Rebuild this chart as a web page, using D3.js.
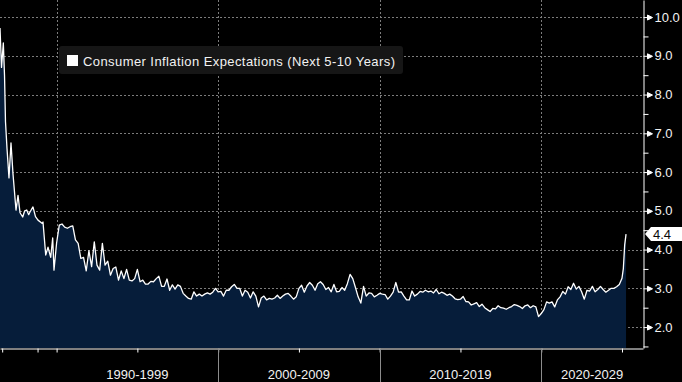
<!DOCTYPE html>
<meta charset="utf-8">
<style>

body {
  margin: 0;
  background: #000;
}

svg {
  display: block;
  font-family: "Liberation Sans", Arial, sans-serif;
}

.grid line {
  stroke: #7c7c7c;
  stroke-dasharray: 2,2;
}

.area {
  fill: #061d3a;
}

.line {
  fill: none;
  stroke: #fff;
  stroke-width: 1.3px;
  stroke-linejoin: round;
}

.axis text {
  fill: #f2f2f2;
  font-size: 13px;
}

.axis line,
.axis path {
  stroke: #fff;
}

</style>
<svg width="682" height="382"></svg>
<script src="https://d3js.org/d3.v7.min.js"></script>
<script>

// Early survey readings (irregular, before the monthly series)
var earlyYears  = [1979.6, 1979.88, 1980.21, 1980.43, 1980.61, 1980.89, 1981.25, 1981.62, 1981.99,
                   1982.54, 1982.91, 1983.28, 1983.77, 1984.14, 1984.51, 1984.87, 1985.11, 1985.66,
                   1986.12, 1986.58, 1987.32, 1987.5, 1988.0, 1988.42, 1988.92, 1989.28, 1989.52];
var earlyValues = [9.72, 8.70, 9.33, 8.50, 7.30, 6.60, 5.85, 6.75, 5.95,
                   5.02, 5.40, 4.95, 4.84, 5.00, 5.02, 4.90, 4.97, 5.10,
                   4.85, 4.76, 4.68, 4.71, 3.86, 4.06, 3.80, 4.30, 3.47];

// Every second month, Jan 1990 .. Jan 2025
var bimonthly = [
  4.17, 4.63, 4.66, 4.58, 4.55, 4.59, 4.61, 4.25, 4.16, 3.77, 3.80, 3.45,
  3.97, 3.56, 4.20, 3.60, 3.47, 4.16, 3.60, 3.70, 3.34, 3.51, 3.55, 3.21,
  3.45, 3.25, 3.49, 3.21, 3.19, 3.25, 3.49, 3.17, 3.21, 3.11, 3.11, 3.18,
  3.17, 3.25, 3.31, 3.05, 3.05, 3.24, 2.95, 3.09, 2.98, 3.09, 3.05, 2.87,
  2.80, 2.74, 2.72, 2.91, 2.80, 2.85, 2.80, 2.85, 2.88, 2.85, 2.90, 3.00,
  2.91, 2.92, 2.80, 2.95, 2.95, 3.04, 3.10, 3.00, 3.00, 2.80, 2.95, 2.90,
  2.75, 2.91, 2.80, 2.52, 2.75, 2.80, 2.70, 2.74, 2.72, 2.75, 2.82, 2.74,
  2.80, 2.85, 2.87, 2.80, 2.72, 2.78, 3.00, 3.08, 2.90, 3.06, 3.15, 3.08,
  2.95, 3.12, 3.17, 3.10, 2.97, 3.02, 2.91, 3.10, 2.91, 2.92, 3.02, 2.95,
  3.12, 3.36, 3.25, 3.02, 2.78, 2.62, 3.05, 2.80, 2.88, 2.87, 2.78, 2.82,
  2.87, 2.85, 2.84, 2.72, 2.80, 2.90, 3.15, 2.90, 2.91, 2.80, 2.70, 2.70,
  2.93, 2.80, 2.85, 2.92, 2.90, 2.95, 2.91, 2.93, 2.88, 2.97, 2.86, 2.90,
  2.87, 2.82, 2.85, 2.80, 2.73, 2.71, 2.72, 2.79, 2.66, 2.65, 2.57, 2.60,
  2.63, 2.53, 2.59, 2.50, 2.45, 2.40, 2.48, 2.47, 2.55, 2.50, 2.49, 2.46,
  2.50, 2.53, 2.58, 2.56, 2.53, 2.48, 2.55, 2.57, 2.50, 2.55, 2.52, 2.27,
  2.35, 2.45, 2.65, 2.62, 2.65, 2.52, 2.70, 2.78, 2.92, 2.85, 3.04, 2.97,
  3.13, 2.98, 3.05, 2.91, 2.72, 2.95, 2.93, 3.05, 2.91, 2.97, 3.05, 2.97,
  2.90, 2.95, 3.00, 3.00, 3.04, 3.10,
  3.26
];

// Feb, Mar, Apr 2025
var latestValues = [3.51, 4.12, 4.40];

var yTicks = [2, 3, 4, 5, 6, 7, 8, 9, 10];
var yMinorTicks = [1.5, 2.5, 3.5, 4.5, 5.5, 6.5, 7.5, 8.5, 9.5];
var xTicks = [1980, 1986.5, 1990, 1995, 2000, 2005, 2010, 2015, 2020, 2025];
var decadeStarts = [1990, 2000, 2010, 2020];
var decadeLabels = ["1990-1999", "2000-2009", "2010-2019", "2020-2029"];
var legendLabel = "Consumer Inflation Expectations (Next 5-10 Years)";

var series = earlyYears.map(function(t, i) { return {t: t, v: earlyValues[i]}; })
  .concat(bimonthly.map(function(v, i) { return {t: 1990 + i / 6, v: v}; }))
  .concat(latestValues.map(function(v, i) { return {t: 2025 + (i + 1) / 12, v: v}; }));

var svg = d3.select("svg"),
    plotW = 643,
    plotH = 348;

// pre-1990 readings are squeezed into the first strip, like the terminal does
var x = d3.scaleLinear()
    .domain([1979.6, 1990, 2026.3])
    .range([0, 56.6, plotW]);

var y = d3.scaleLinear()
    .domain([1.46, 10.44])
    .range([plotH, 0]);

// grid
var grid = svg.append("g").attr("class", "grid");
grid.selectAll(".h")
  .data(yTicks)
  .enter().append("line")
    .attr("class", "h")
    .attr("x1", 0).attr("x2", plotW)
    .attr("y1", function(d) { return Math.round(y(d)) + 0.5; })
    .attr("y2", function(d) { return Math.round(y(d)) + 0.5; });
grid.selectAll(".v")
  .data(decadeStarts)
  .enter().append("line")
    .attr("class", "v")
    .attr("y1", 0).attr("y2", plotH)
    .attr("x1", function(d) { return Math.round(x(d)) + 0.5; })
    .attr("x2", function(d) { return Math.round(x(d)) + 0.5; });

// series
svg.append("path")
    .datum(series)
    .attr("class", "area")
    .attr("d", d3.area()
      .x(function(d) { return x(d.t); })
      .y0(plotH)
      .y1(function(d) { return y(d.v); }));

svg.append("path")
    .datum(series)
    .attr("class", "line")
    .attr("d", d3.line()
      .x(function(d) { return x(d.t); })
      .y(function(d) { return y(d.v); }));

// legend
var legend = svg.append("g").attr("transform", "translate(59,46)");
legend.append("rect")
    .attr("width", 344).attr("height", 28).attr("rx", 3)
    .attr("fill", "#161616");
legend.append("rect")
    .attr("x", 8).attr("y", 9).attr("width", 11).attr("height", 11)
    .attr("fill", "#fff");
legend.append("text")
    .attr("x", 24).attr("y", 20)
    .attr("fill", "#f2f2f2")
    .attr("textLength", 312)
    .attr("lengthAdjust", "spacing")
    .style("font-size", "13px")
    .text(legendLabel);

// right axis
var yAxis = svg.append("g")
    .attr("class", "axis")
    .attr("transform", "translate(" + (plotW + 0.5) + ",0)")
    .call(d3.axisRight(y)
      .tickValues(yTicks)
      .tickSize(5)
      .tickSizeOuter(0)
      .tickPadding(6)
      .tickFormat(d3.format(".1f")));

yAxis.selectAll(".tick")
  .append("path")
    .attr("d", "M4,-2.5L9,0L4,2.5Z")
    .attr("fill", "#fff")
    .attr("stroke", "none");

svg.append("g")
    .attr("class", "axis")
    .attr("transform", "translate(" + (plotW + 0.5) + ",0)")
    .call(d3.axisRight(y)
      .tickValues(yMinorTicks)
      .tickSize(5)
      .tickFormat(""))
  .select(".domain").remove();

// bottom axis
svg.append("g")
    .attr("class", "axis")
    .attr("transform", "translate(0," + (plotH + 0.5) + ")")
    .call(d3.axisBottom(x)
      .tickValues(xTicks)
      .tickSize(4)
      .tickSizeOuter(0)
      .tickFormat(""));

svg.selectAll(".sep")
  .data(decadeStarts.slice(1))
  .enter().append("line")
    .attr("class", "sep")
    .attr("x1", function(d) { return Math.round(x(d)) + 0.5; })
    .attr("x2", function(d) { return Math.round(x(d)) + 0.5; })
    .attr("y1", plotH)
    .attr("y2", 382)
    .attr("stroke", "#8c8c8c");

svg.selectAll(".decade")
  .data(decadeStarts)
  .enter().append("text")
    .attr("class", "decade")
    .attr("x", function(d) { return (x(d) + Math.min(x(d + 10), plotW)) / 2; })
    .attr("y", 379)
    .attr("text-anchor", "middle")
    .attr("fill", "#f2f2f2")
    .style("font-size", "13px")
    .text(function(d, i) { return decadeLabels[i]; });

// last value tag
var last = series[series.length - 1],
    ly = y(last.v);
var tag = svg.append("g").attr("transform", "translate(" + (plotW + 2) + "," + ly + ")");
tag.append("path")
    .attr("d", "M0,0L6,-7L37,-7L37,7L6,7Z")
    .attr("fill", "#fff");
tag.append("text")
    .attr("x", 8)
    .attr("dy", "0.35em")
    .attr("fill", "#0a0a0a")
    .style("font-size", "13px")
    .text(d3.format(".1f")(last.v));

</script>
